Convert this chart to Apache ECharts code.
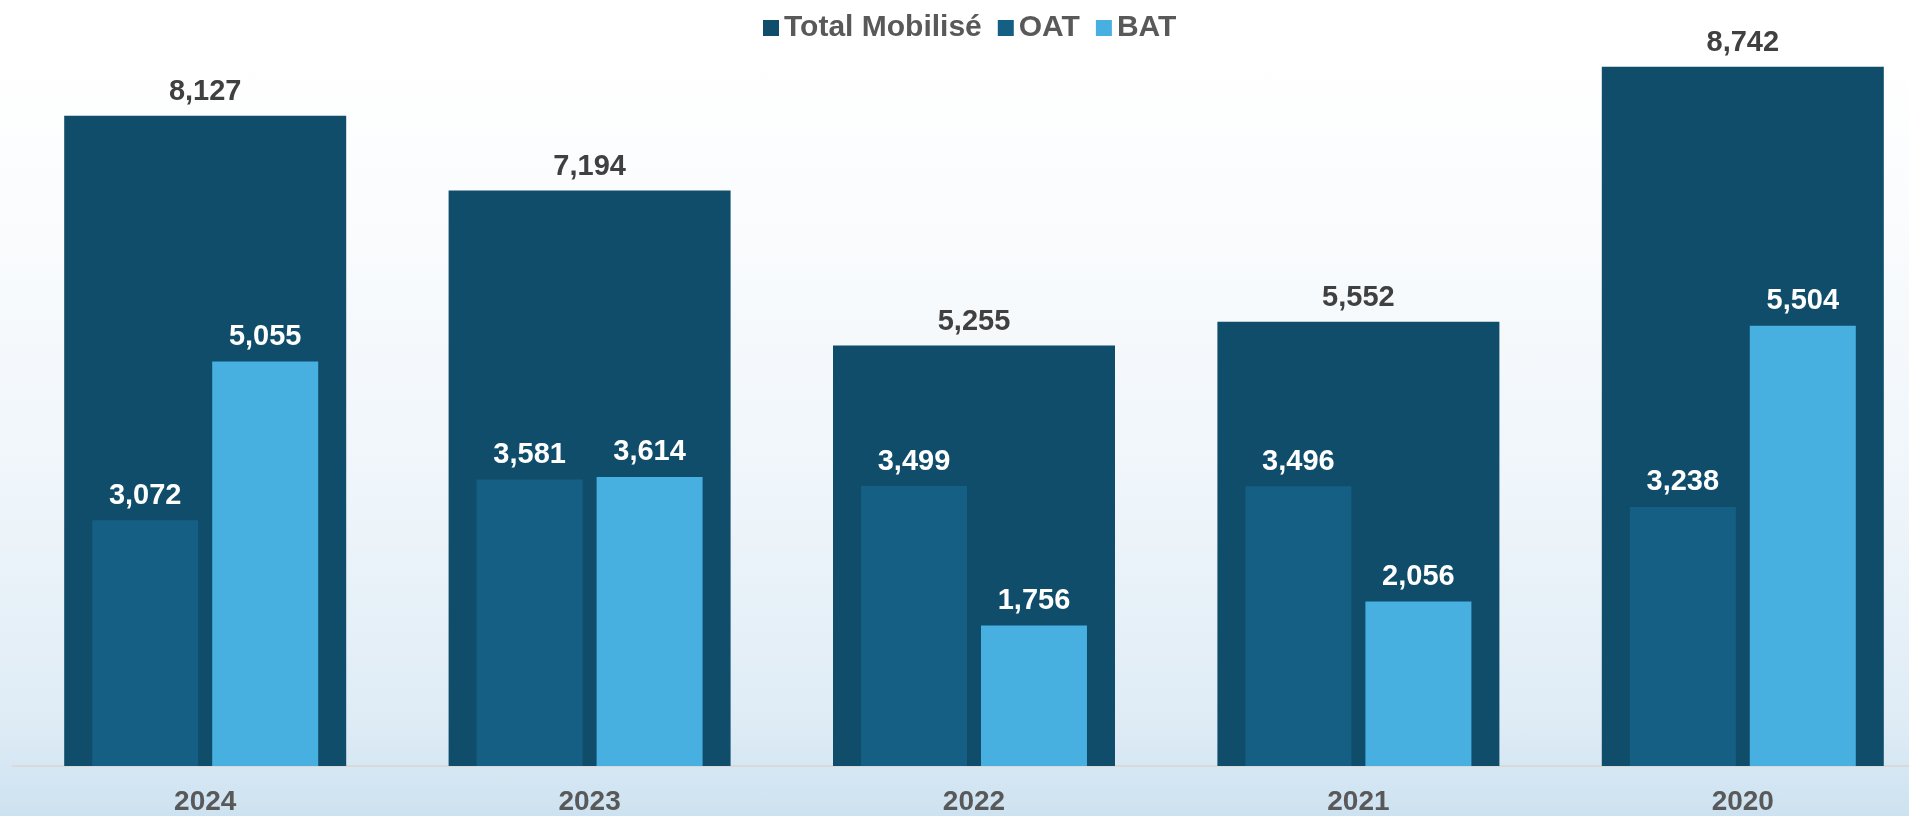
<!DOCTYPE html>
<html>
<head>
<meta charset="utf-8">
<script src="https://cdn.jsdelivr.net/npm/echarts@6/dist/echarts.min.js"></script>
<style>
html,body{margin:0;padding:0;width:1909px;height:816px;overflow:hidden;}
body{background:linear-gradient(to bottom,#ffffff 0%,#ffffff 7%,#f9fbfd 30%,#eef5fa 62%,#dfecf6 88%,#cde2f0 100%);}
#chart{width:1935px;height:816px;}
</style>
</head>
<body>
<div id="chart"></div>
<script>
const categories = ['2024', '2023', '2022', '2021', '2020'];
const totalMobilise = [8127, 7194, 5255, 5552, 8742];
const oat = [3072, 3581, 3499, 3496, 3238];
const bat = [5055, 3614, 1756, 2056, 5504];
const seriesNames = ['Total Mobilisé', 'OAT', 'BAT'];

const FONT = '"Liberation Sans", Arial, sans-serif';
const fmt = v => v.value.toLocaleString('en-US');

const chart = echarts.init(document.getElementById('chart'), null, {renderer: 'canvas'});
chart.setOption({
  backgroundColor: 'transparent',
  animation: false,
  legend: {
    data: seriesNames,
    top: 8,
    left: 758,
    icon: 'rect',
    itemWidth: 16,
    itemHeight: 16,
    itemGap: 16,
    textStyle: {fontFamily: FONT, fontSize: 30, fontWeight: 'bold', color: '#595959'}
  },
  grid: {left: 13, right: 0, top: 6, bottom: 50, containLabel: false},
  xAxis: [
    {
      type: 'category',
      data: categories,
      axisLine: {show: true, lineStyle: {color: '#d9d9d9', width: 2}},
      axisTick: {show: false},
      axisLabel: {fontFamily: FONT, fontSize: 28, fontWeight: 'bold', color: '#595959', margin: 22}
    },
    {
      type: 'category',
      data: categories,
      show: false
    }
  ],
  yAxis: {
    type: 'value',
    min: 0,
    max: 9500,
    show: false,
    splitLine: {show: false}
  },
  series: [
    {
      name: seriesNames[0],
      type: 'bar',
      xAxisIndex: 0,
      data: totalMobilise,
      barWidth: 282,
      itemStyle: {color: '#0f4d6a'},
      label: {show: true, position: 'top', distance: 9, formatter: fmt,
        fontFamily: FONT, fontSize: 29, fontWeight: 'bold', color: '#404040'}
    },
    {
      name: seriesNames[1],
      type: 'bar',
      xAxisIndex: 1,
      data: oat,
      barWidth: 106,
      barGap: '13.2%',
      itemStyle: {color: '#165f84'},
      label: {show: true, position: 'top', distance: 10, formatter: fmt,
        fontFamily: FONT, fontSize: 29, fontWeight: 'bold', color: '#ffffff'}
    },
    {
      name: seriesNames[2],
      type: 'bar',
      xAxisIndex: 1,
      data: bat,
      barWidth: 106,
      barGap: '13.2%',
      itemStyle: {color: '#47b0e0'},
      label: {show: true, position: 'top', distance: 10, formatter: fmt,
        fontFamily: FONT, fontSize: 29, fontWeight: 'bold', color: '#ffffff'}
    }
  ]
});
</script>
</body>
</html>
